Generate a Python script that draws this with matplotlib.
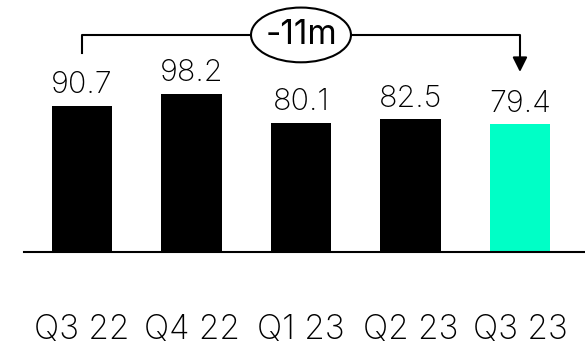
import matplotlib
matplotlib.use("Agg")
import matplotlib.pyplot as plt
from matplotlib.patches import Ellipse

quarters = ["Q3 22", "Q4 22", "Q1 23", "Q2 23", "Q3 23"]
values = [90.7, 98.2, 80.1, 82.5, 79.4]
colors = ["black", "black", "black", "black", "#00FFC6"]
change_label = "-11m"

plt.rcParams["font.family"] = ["Inter", "DejaVu Sans"]

fig = plt.figure(figsize=(5.85, 3.45), dpi=100)
ax = fig.add_axes([0, 0, 1, 1])
ax.set_xlim(-0.749, 4.594)
ax.set_ylim(-57.8, 156.5)
ax.axis("off")

x = list(range(len(values)))
ax.bar(x, values, width=0.55, color=colors, zorder=2)
ax.plot([-0.53, 4.594], [0, 0], color="black", lw=1.5, zorder=3)

for i, v in enumerate(values):
    ax.annotate(f"{v}", (i, v), xytext=(0, 9), textcoords="offset points",
                ha="center", va="baseline", fontsize=22, fontweight="light")
    ax.text(i, -54.0, quarters[i], ha="center", va="baseline",
            fontsize=24, fontweight="light")

# bracket from first to last bar
top = max(values) + 36.6
ax.plot([0, 0, 4, 4], [values[0] + 33, top, top, values[-1] + 41],
        color="black", lw=1.5, zorder=1)
ax.annotate("", xy=(4, values[-1] + 32.4), xytext=(4, values[-1] + 42),
            arrowprops=dict(arrowstyle="-|>", color="black", lw=1.5,
                            mutation_scale=22, shrinkA=0, shrinkB=0))
ax.add_patch(Ellipse((2, top), 0.913, 34, facecolor="white",
                     edgecolor="black", lw=1.5, zorder=4))
ax.text(2, top, change_label, ha="center", va="center", fontsize=24, zorder=5)

fig.savefig("out.png", dpi=100)
